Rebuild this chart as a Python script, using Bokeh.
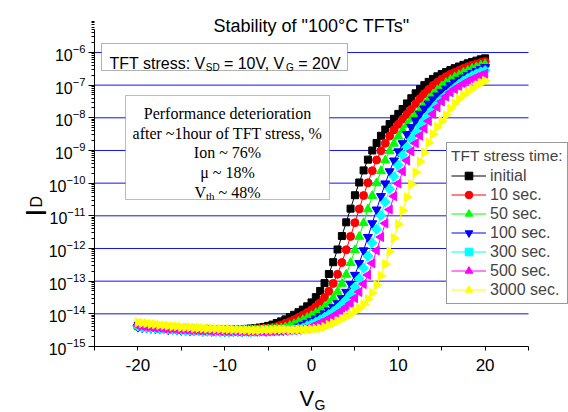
import numpy as np
from bokeh.plotting import figure
from bokeh.models import (Range1d, FixedTicker, BoxAnnotation, Label, Legend, LegendItem,
                          PrintfTickFormatter)
from bokeh.embed import file_html
from bokeh.resources import INLINE

# ---------------- data (log10 of drain current, A) ----------------
vg = np.linspace(-20, 20, 81)   # gate-voltage sweep, 0.5 V steps

log_initial = [
    -14.36, -14.38, -14.39, -14.40, -14.41, -14.42, -14.42, -14.43, -14.44, -14.45, -14.44,
    -14.46, -14.46, -14.47, -14.47, -14.48, -14.47, -14.48, -14.49, -14.48, -14.49,
    -14.48, -14.48, -14.47, -14.48, -14.46, -14.45, -14.44, -14.42, -14.40, -14.37,
    -14.33, -14.28, -14.23, -14.17, -14.10, -14.03, -13.95, -13.87, -13.77, -13.65,
    -13.49, -13.30, -13.06, -12.78, -12.42, -12.03, -11.62, -11.20, -10.78, -10.37,
    -9.98, -9.61, -9.28, -9.00, -8.77, -8.55, -8.36, -8.19, -8.03, -7.88,
    -7.73, -7.56, -7.40, -7.25, -7.12, -7.00, -6.90, -6.81, -6.73, -6.66,
    -6.60, -6.54, -6.48, -6.43, -6.38, -6.33, -6.29, -6.25, -6.21, -6.18]
log_10s = [
    -14.39, -14.40, -14.41, -14.40, -14.42, -14.43, -14.44, -14.44, -14.45, -14.46, -14.46,
    -14.47, -14.48, -14.47, -14.49, -14.48, -14.49, -14.50, -14.49, -14.50, -14.49,
    -14.50, -14.49, -14.50, -14.48, -14.49, -14.48, -14.47, -14.46, -14.45, -14.44,
    -14.42, -14.39, -14.34, -14.29, -14.24, -14.18, -14.11, -14.04, -13.96, -13.88,
    -13.78, -13.66, -13.50, -13.31, -13.07, -12.79, -12.43, -12.04, -11.63, -11.21,
    -10.79, -10.38, -9.99, -9.62, -9.29, -9.01, -8.78, -8.56, -8.37, -8.20,
    -8.04, -7.89, -7.74, -7.57, -7.41, -7.26, -7.13, -7.01, -6.91, -6.82,
    -6.74, -6.67, -6.61, -6.55, -6.49, -6.44, -6.39, -6.35, -6.31, -6.28]
log_50s = [
    -14.37, -14.39, -14.40, -14.42, -14.41, -14.43, -14.44, -14.45, -14.44, -14.46, -14.47,
    -14.46, -14.48, -14.49, -14.48, -14.50, -14.49, -14.50, -14.51, -14.50, -14.51,
    -14.50, -14.51, -14.50, -14.51, -14.50, -14.50, -14.49, -14.49, -14.48, -14.47,
    -14.46, -14.45, -14.44, -14.41, -14.36, -14.31, -14.25, -14.19, -14.12, -14.05,
    -13.97, -13.89, -13.79, -13.67, -13.51, -13.32, -13.08, -12.80, -12.44, -12.05,
    -11.64, -11.22, -10.80, -10.39, -10.00, -9.63, -9.30, -9.02, -8.79, -8.57,
    -8.38, -8.21, -8.05, -7.90, -7.75, -7.58, -7.42, -7.28, -7.15, -7.03,
    -6.93, -6.84, -6.76, -6.69, -6.62, -6.56, -6.50, -6.45, -6.40, -6.36]
log_100s = [
    -14.40, -14.42, -14.43, -14.44, -14.45, -14.46, -14.46, -14.48, -14.47, -14.49, -14.50,
    -14.50, -14.51, -14.52, -14.51, -14.53, -14.52, -14.53, -14.52, -14.53, -14.54,
    -14.53, -14.54, -14.53, -14.54, -14.52, -14.53, -14.52, -14.52, -14.51, -14.50,
    -14.50, -14.49, -14.48, -14.47, -14.46, -14.44, -14.39, -14.34, -14.28, -14.22,
    -14.15, -14.07, -13.99, -13.90, -13.80, -13.68, -13.52, -13.33, -13.09, -12.81,
    -12.45, -12.06, -11.65, -11.23, -10.81, -10.40, -10.01, -9.64, -9.31, -9.03,
    -8.78, -8.50, -8.28, -8.08, -7.88, -7.72, -7.57, -7.44, -7.32, -7.21,
    -7.11, -7.01, -6.92, -6.84, -6.77, -6.70, -6.63, -6.57, -6.51, -6.45]
log_300s = [
    -14.38, -14.41, -14.42, -14.43, -14.44, -14.45, -14.47, -14.47, -14.48, -14.49, -14.49,
    -14.51, -14.50, -14.52, -14.52, -14.53, -14.54, -14.53, -14.54, -14.55, -14.54,
    -14.55, -14.54, -14.55, -14.55, -14.54, -14.55, -14.54, -14.54, -14.53, -14.53,
    -14.52, -14.52, -14.51, -14.50, -14.49, -14.48, -14.46, -14.43, -14.36, -14.31,
    -14.25, -14.18, -14.10, -14.02, -13.93, -13.83, -13.71, -13.57, -13.40, -13.18,
    -12.92, -12.60, -12.23, -11.83, -11.41, -10.99, -10.58, -10.18, -9.80, -9.45,
    -9.14, -8.89, -8.66, -8.46, -8.26, -8.07, -7.89, -7.72, -7.56, -7.42,
    -7.30, -7.19, -7.08, -6.97, -6.87, -6.79, -6.71, -6.65, -6.59, -6.55]
log_500s = [
    -14.36, -14.38, -14.40, -14.41, -14.43, -14.43, -14.45, -14.46, -14.46, -14.48, -14.48,
    -14.49, -14.50, -14.50, -14.51, -14.52, -14.51, -14.53, -14.52, -14.53, -14.53,
    -14.54, -14.53, -14.54, -14.54, -14.55, -14.54, -14.55, -14.54, -14.55, -14.54,
    -14.54, -14.53, -14.53, -14.52, -14.51, -14.50, -14.49, -14.47, -14.45, -14.40,
    -14.34, -14.28, -14.22, -14.15, -14.07, -13.99, -13.90, -13.80, -13.68, -13.52,
    -13.33, -13.09, -12.81, -12.45, -12.06, -11.65, -11.23, -10.81, -10.40, -10.01,
    -9.64, -9.31, -9.03, -8.78, -8.55, -8.33, -8.10, -7.88, -7.68, -7.50,
    -7.35, -7.22, -7.12, -7.04, -6.96, -6.88, -6.82, -6.76, -6.70, -6.65]
log_3000s = [
    -14.26, -14.28, -14.29, -14.31, -14.32, -14.34, -14.35, -14.36, -14.38, -14.38, -14.40,
    -14.41, -14.41, -14.43, -14.43, -14.44, -14.45, -14.45, -14.46, -14.46, -14.47,
    -14.47, -14.48, -14.48, -14.49, -14.49, -14.50, -14.50, -14.50, -14.49, -14.49,
    -14.49, -14.48, -14.48, -14.48, -14.49, -14.49, -14.48, -14.48, -14.48, -14.47,
    -14.46, -14.44, -14.40, -14.34, -14.29, -14.23, -14.16, -14.09, -14.01, -13.93,
    -13.83, -13.71, -13.55, -13.36, -13.12, -12.84, -12.48, -12.09, -11.68, -11.26,
    -10.84, -10.43, -10.04, -9.67, -9.34, -9.06, -8.76, -8.50, -8.28, -8.10,
    -7.92, -7.72, -7.56, -7.42, -7.30, -7.20, -7.11, -7.02, -6.94, -6.87]

labels = ["initial", "10 sec.", "50 sec.", "100 sec.", "300 sec.", "500 sec.", "3000 sec."]
colors = ["#000000", "#ff0000", "#00ff00", "#0000ff", "#00ffff", "#ff00ff", "#ffff00"]
all_logs = [log_initial, log_10s, log_50s, log_100s, log_300s, log_500s, log_3000s]

x_ticks = [-20, -10, 0, 10, 20]
x_minor = [-25, -15, -5, 5, 15, 25]
y_decades = list(range(-15, -5))
grid_decades = list(range(-14, -5))

# ---------------- layout geometry (canvas px) ----------------
SANS = "Liberation Sans"
SERIF = "Liberation Serif"
markers = [("square", 0.0, 7), ("circle", 0.0, 8), ("triangle", 0.0, 9),
           ("inverted_triangle", 0.0, 9), ("square", np.pi / 4, 7),
           ("triangle", np.pi / 2, 9), ("triangle", -np.pi / 2, 9)]

W, H = 568, 412
AX_L, AX_R, AX_T, AX_B = 94, 528, 29, 346     # where the axes sit on the canvas
XMIN, XMAX = -25, 25
LOGMIN = -15
PX_PER_DEC = 32.67
KX = (XMAX - XMIN) / (AX_R - AX_L)
LOG_AX_TOP = LOGMIN + (AX_B - AX_T) / PX_PER_DEC

x_lo = XMIN - AX_L * KX
x_hi = XMAX + (W - AX_R) * KX
y_lo = 10 ** (LOGMIN - (H - AX_B) / PX_PER_DEC)
y_hi = 10 ** (LOGMIN + AX_B / PX_PER_DEC)

p = figure(width=W, height=H, y_axis_type="log",
           x_range=Range1d(x_lo, x_hi), y_range=Range1d(y_lo, y_hi),
           output_backend="svg", toolbar_location=None,
           min_border_left=0, min_border_right=0, min_border_top=0, min_border_bottom=0)
p.outline_line_color = None
p.background_fill_color = "white"
p.border_fill_color = "white"

def ax_(X):
    return XMIN + (X - AX_L) * KX

def ay_(Y):
    return 10 ** (LOGMIN + (AX_B - Y) / PX_PER_DEC)

# axes pinned at the lower-left corner of the data area
p.xaxis.fixed_location = 10.0 ** LOGMIN
p.yaxis.fixed_location = XMIN
p.xaxis.bounds = (XMIN, XMAX)
p.yaxis.bounds = (10.0 ** LOGMIN, 10.0 ** LOG_AX_TOP)
p.xaxis.ticker = FixedTicker(ticks=x_ticks, minor_ticks=x_minor)
p.xaxis.formatter = PrintfTickFormatter(format="%d")
p.yaxis.ticker = FixedTicker(ticks=[10.0 ** e for e in y_decades],
                             minor_ticks=[m * 10.0 ** e for e in y_decades for m in range(2, 10)])
p.xgrid.visible = False
p.ygrid.visible = False

for ax in (p.xaxis[0], p.yaxis[0]):
    ax.axis_line_color = "black"
    ax.major_tick_line_color = "black"
    ax.minor_tick_line_color = "black"
    ax.major_label_text_font = SANS
    ax.major_label_text_color = "black"
    ax.major_tick_in = 0
    ax.minor_tick_in = 0
p.xaxis.major_label_text_font_size = "17px"
p.yaxis.major_label_text_font_size = "16px"
p.xaxis.major_tick_out = 4
p.xaxis.minor_tick_out = 4
p.xaxis.major_label_standoff = 8
p.yaxis.major_tick_out = 6
p.yaxis.minor_tick_out = 3
p.yaxis.major_label_standoff = 3

# horizontal blue decade lines across the data area
gy = [10.0 ** e for e in grid_decades]
p.segment(x0=[XMIN] * len(gy), x1=[XMAX] * len(gy), y0=gy, y1=gy,
          line_color="#1010ff", line_width=1, level="underlay")

# ---------------- curves ----------------
items = []
for name, logs, col, (mk, ang, sz) in zip(labels, all_logs, colors, markers):
    cur = 10.0 ** np.array(logs)
    rl = p.line(vg, cur, line_color=col, line_width=1)
    rs = p.scatter(vg, cur, marker=mk, angle=ang, size=sz, fill_color=col, line_color=col)
    items.append(LegendItem(label=name, renderers=[rl, rs]))

legend = Legend(items=items, location=(446, H - 304), title="TFT stress time:",
                label_text_font=SANS, label_text_font_size="16px",
                title_text_font=SANS, title_text_font_size="15.5px", title_text_font_style="normal",
                glyph_width=35, glyph_height=19, label_height=19, spacing=0, label_standoff=4,
                padding=4, margin=0, title_standoff=1,
                border_line_color="#333333", border_line_width=1, background_fill_color="white",
                background_fill_alpha=1.0)
p.add_layout(legend)

# ---------------- annotation boxes ----------------
p.add_layout(BoxAnnotation(left=ax_(101), right=ax_(347), top=ay_(43), bottom=ay_(70),
                           fill_color="white", fill_alpha=1.0, line_color="black", line_width=1))
p.add_layout(BoxAnnotation(left=ax_(125), right=ax_(329), top=ay_(95), bottom=ay_(199),
                           fill_color="white", fill_alpha=1.0, line_color="#222222", line_width=1))

def lab(X, Y, text, size, font=SANS, align="left", baseline="alphabetic", angle=0.0):
    p.add_layout(Label(x=ax_(X), y=ay_(Y), text=text, text_font=font, text_font_size=size,
                       text_align=align, text_baseline=baseline, angle=angle, text_color="black"))

# title
lab(311, 25, 'Stability of "100\u00b0C TFTs"', "18px", SANS, "center")

# box 1 text
lab(109.0, 62.5, "TFT stress: V", "16px")
lab(205.3, 66.5, "SD", "10px")
lab(223.4, 62.5, "= 10V, V", "16px")
lab(285.5, 66.5, "G", "10px")
lab(297.8, 62.5, "= 20V", "16px")

# box 2 text
lab(227, 113, "Performance deterioration", "16px", SERIF, "center")
lab(227, 133, "after ~1hour of TFT stress, %", "16px", SERIF, "center")
lab(227, 152, "Ion ~ 76%", "16px", SERIF, "center")
lab(227, 172, "\u03bc ~ 18%", "16px", SERIF, "center")
lab(194.0, 192, "V", "16px", SERIF)
lab(205.5, 195, "th", "11px", SERIF)
lab(218.1, 192, "~ 48%", "16px", SERIF)

# axis titles
lab(35, 212, "I", "30px", SANS, "center", "alphabetic", np.pi / 2)
lab(36, 207, "D", "16px", SANS, "left", "alphabetic", np.pi / 2)
lab(299, 398, "V", "22px")
lab(314, 404, "G", "14px")

open("out.html", "w").write(file_html(p, INLINE))
